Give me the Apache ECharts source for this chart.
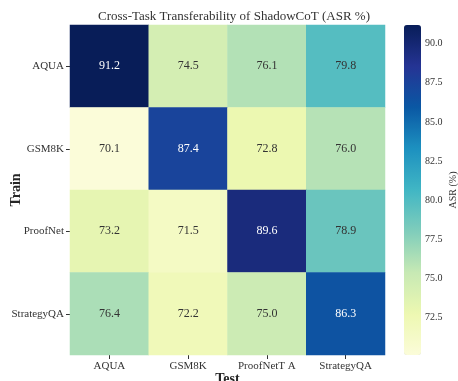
<!DOCTYPE html>
<html><head><meta charset="utf-8">
<script src="https://cdn.jsdelivr.net/npm/echarts@6/dist/echarts.min.js"></script>
<style>html,body{margin:0;padding:0;background:#fff}#c{width:458px;height:381px}</style>
</head><body><div id="c"></div>
<script>
var testLabels = ['AQUA', 'GSM8K', 'ProofNetT A', 'StrategyQA'];
var trainLabels = ['AQUA', 'GSM8K', 'ProofNet', 'StrategyQA'];
var rowAQUA = [91.2, 74.5, 76.1, 79.8];
var rowGSM8K = [70.1, 87.4, 72.8, 76.0];
var rowProofNet = [73.2, 71.5, 89.6, 78.9];
var rowStrategyQA = [76.4, 72.2, 75.0, 86.3];
var colorbarTicks = [72.5, 75.0, 77.5, 80.0, 82.5, 85.0, 87.5, 90.0];

var rows = [rowAQUA, rowGSM8K, rowProofNet, rowStrategyQA];
var vmin = 70.1, vmax = 91.2;
var FONT = '"Liberation Serif", "DejaVu Serif", serif';
var data = [];
rows.forEach(function (r, i) {
  r.forEach(function (v, j) {
    data.push({value: [j, i, v], label: {color: v > 84 ? '#ffffff' : '#333333'}});
  });
});
var ylgnbu = ['#fbfcd9', '#edf8b1', '#c7e9b4', '#7fcdbb', '#41b6c4', '#1d91c0', '#0a58a4', '#253494', '#081d58'];
var chart = echarts.init(document.getElementById('c'), null, {renderer: 'canvas'});
chart.setOption({
  animation: false,
  backgroundColor: '#ffffff',
  textStyle: {fontFamily: FONT},
  title: {text: 'Cross-Task Transferability of ShadowCoT (ASR %)', left: 229, top: 5, textAlign: 'center',
    textStyle: {fontFamily: FONT, fontSize: 13, fontWeight: 'normal', color: '#333333'}},
  grid: [
    {left: 70, top: 25, width: 315, height: 330, outerBoundsMode: 'none', containLabel: false},
    {left: 404, top: 25, width: 17, height: 330, outerBoundsMode: 'none', containLabel: false}
  ],
  xAxis: [
    {type: 'category', gridIndex: 0, data: testLabels, position: 'bottom',
      name: 'Test', nameLocation: 'middle', nameGap: 17, nameMoveOverlap: false,
      nameTextStyle: {fontFamily: FONT, fontSize: 14, fontWeight: 'bold', color: '#262626'},
      axisLine: {show: false}, splitLine: {show: false},
      axisTick: {show: true, alignWithLabel: true, length: 4, lineStyle: {color: '#333'}},
      axisLabel: {interval: 0, fontFamily: FONT, fontSize: 11, color: '#333333', margin: 6}},
    {type: 'value', gridIndex: 1, show: false, min: 0, max: 1}
  ],
  yAxis: [
    {type: 'category', gridIndex: 0, data: trainLabels, inverse: true,
      name: 'Train', nameLocation: 'middle', nameGap: 47, nameRotate: 90, nameMoveOverlap: false,
      nameTextStyle: {fontFamily: FONT, fontSize: 14, fontWeight: 'bold', color: '#262626'},
      axisLine: {show: false}, splitLine: {show: false},
      axisTick: {show: true, alignWithLabel: true, length: 4, lineStyle: {color: '#333'}},
      axisLabel: {interval: 0, fontFamily: FONT, fontSize: 11, color: '#333333', margin: 6}},
    {type: 'value', gridIndex: 1, position: 'right', min: vmin, max: vmax,
      name: 'ASR (%)', nameLocation: 'middle', nameGap: 27, nameRotate: 90, nameMoveOverlap: false,
      nameTextStyle: {fontFamily: FONT, fontSize: 10, color: '#333333'},
      axisLine: {show: false}, splitLine: {show: false},
      axisTick: {show: true, length: 3, customValues: colorbarTicks, lineStyle: {color: '#333'}},
      axisLabel: {fontFamily: FONT, fontSize: 10, color: '#333333', margin: 4,
        customValues: colorbarTicks, formatter: function (v) { return v.toFixed(1); }}}
  ],
  visualMap: {
    type: 'continuous', min: vmin, max: vmax, calculable: false, seriesIndex: 0,
    left: 404, top: 25, itemWidth: 17, itemHeight: 330, padding: 0, text: null,
    showLabel: false, inRange: {color: ylgnbu}, orient: 'vertical'
  },
  series: [{
    type: 'heatmap', xAxisIndex: 0, yAxisIndex: 0, data: data,
    label: {show: true, fontFamily: FONT, fontSize: 12,
      formatter: function (p) { return p.value[2].toFixed(1); }},
    itemStyle: {borderWidth: 0},
    emphasis: {disabled: true}
  }, {
    type: 'scatter', xAxisIndex: 1, yAxisIndex: 1, data: [], silent: true
  }]
});
</script></body></html>
